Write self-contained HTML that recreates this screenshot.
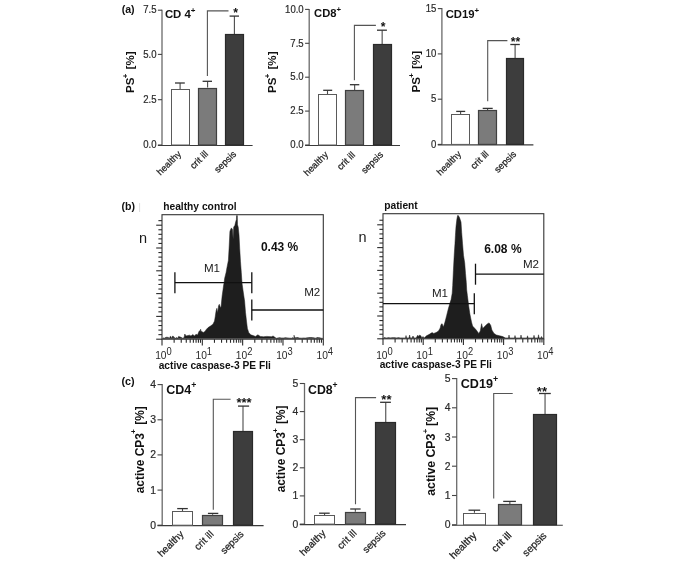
<!DOCTYPE html>
<html><head><meta charset="utf-8"><style>
html,body{margin:0;padding:0;background:#fff;}
svg{display:block;font-family:"Liberation Sans", sans-serif;will-change:transform;}
</style></head><body>
<svg width="685" height="563" viewBox="0 0 685 563" font-family='"Liberation Sans", sans-serif'>
<rect width="685" height="563" fill="#fff"/>
<text x="121.70" y="12.60" font-size="10.6" font-weight="bold" text-anchor="start" fill="#111" >(a)</text>
<line x1="162.00" y1="9.70" x2="162.00" y2="145.00" stroke="#6a6a6a" stroke-width="1.3"/>
<line x1="157.90" y1="10.20" x2="162.00" y2="10.20" stroke="#444" stroke-width="1.1"/>
<text x="156.50" y="13.50" font-size="10.3" text-anchor="end" fill="#2a2a2a" stroke="#2a2a2a" stroke-width="0.2" transform="translate(156.50,0) scale(0.93,1) translate(-156.50,0)">7.5</text>
<line x1="157.90" y1="54.40" x2="162.00" y2="54.40" stroke="#444" stroke-width="1.1"/>
<text x="156.50" y="57.70" font-size="10.3" text-anchor="end" fill="#2a2a2a" stroke="#2a2a2a" stroke-width="0.2" transform="translate(156.50,0) scale(0.93,1) translate(-156.50,0)">5.0</text>
<line x1="157.90" y1="99.70" x2="162.00" y2="99.70" stroke="#444" stroke-width="1.1"/>
<text x="156.50" y="103.00" font-size="10.3" text-anchor="end" fill="#2a2a2a" stroke="#2a2a2a" stroke-width="0.2" transform="translate(156.50,0) scale(0.93,1) translate(-156.50,0)">2.5</text>
<line x1="157.90" y1="145.00" x2="162.00" y2="145.00" stroke="#444" stroke-width="1.1"/>
<text x="156.50" y="148.30" font-size="10.3" text-anchor="end" fill="#2a2a2a" stroke="#2a2a2a" stroke-width="0.2" transform="translate(156.50,0) scale(0.93,1) translate(-156.50,0)">0.0</text>
<line x1="157.90" y1="145.45" x2="252.60" y2="145.45" stroke="#3a3a3a" stroke-width="1.15"/>
<line x1="180.10" y1="89.00" x2="180.10" y2="83.00" stroke="#4a4a4a" stroke-width="1.1"/>
<line x1="175.00" y1="83.00" x2="184.80" y2="83.00" stroke="#333" stroke-width="1.3"/>
<rect x="171.50" y="89.50" width="18.00" height="55.50" fill="#ffffff" stroke="#5a5a5a" stroke-width="1.0"/>
<line x1="207.60" y1="87.50" x2="207.60" y2="81.30" stroke="#4a4a4a" stroke-width="1.1"/>
<line x1="202.60" y1="81.30" x2="212.00" y2="81.30" stroke="#333" stroke-width="1.3"/>
<rect x="198.50" y="88.50" width="18.00" height="56.50" fill="#7b7b7b" stroke="#404040" stroke-width="1.2"/>
<line x1="234.40" y1="34.20" x2="234.40" y2="16.10" stroke="#4a4a4a" stroke-width="1.1"/>
<line x1="229.60" y1="16.10" x2="239.00" y2="16.10" stroke="#333" stroke-width="1.3"/>
<rect x="225.50" y="34.50" width="18.00" height="110.50" fill="#3d3d3d" stroke="#2a2a2a" stroke-width="1.2"/>
<polyline points="207.4,76 207.4,10.9 228.5,10.9" fill="none" stroke="#555" stroke-width="1.1"/>
<text x="235.50" y="17.20" font-size="12.2" font-weight="bold" text-anchor="middle" fill="#111" >*</text>
<text x="164.90" y="18.30" font-size="11.4" font-weight="bold" fill="#111">CD 4<tspan font-size="7.98" dy="-5.70">+</tspan></text>
<text transform="translate(133.60,72.20) rotate(-90)" x="0" y="0" font-size="11.6" font-weight="bold" text-anchor="middle" fill="#111">PS<tspan font-size="7.66" dx="-0.6" dy="-6.10">+</tspan><tspan dx="1.0" dy="6.10"> [%]</tspan></text>
<text transform="translate(181.70,154.60) rotate(-45)" x="0" y="0" font-size="9.3" text-anchor="end" fill="#1e1e1e" stroke="#1e1e1e" stroke-width="0.25">healthy</text>
<text transform="translate(208.70,154.60) rotate(-45)" x="0" y="0" font-size="9.3" text-anchor="end" fill="#1e1e1e" stroke="#1e1e1e" stroke-width="0.25">crit ill</text>
<text transform="translate(236.70,154.60) rotate(-45)" x="0" y="0" font-size="9.3" text-anchor="end" fill="#1e1e1e" stroke="#1e1e1e" stroke-width="0.25">sepsis</text>
<line x1="309.20" y1="8.90" x2="309.20" y2="145.00" stroke="#6a6a6a" stroke-width="1.3"/>
<line x1="305.10" y1="9.40" x2="309.20" y2="9.40" stroke="#444" stroke-width="1.1"/>
<text x="303.70" y="12.70" font-size="10.3" text-anchor="end" fill="#2a2a2a" stroke="#2a2a2a" stroke-width="0.2" transform="translate(303.70,0) scale(0.93,1) translate(-303.70,0)">10.0</text>
<line x1="305.10" y1="43.30" x2="309.20" y2="43.30" stroke="#444" stroke-width="1.1"/>
<text x="303.70" y="46.60" font-size="10.3" text-anchor="end" fill="#2a2a2a" stroke="#2a2a2a" stroke-width="0.2" transform="translate(303.70,0) scale(0.93,1) translate(-303.70,0)">7.5</text>
<line x1="305.10" y1="77.20" x2="309.20" y2="77.20" stroke="#444" stroke-width="1.1"/>
<text x="303.70" y="80.50" font-size="10.3" text-anchor="end" fill="#2a2a2a" stroke="#2a2a2a" stroke-width="0.2" transform="translate(303.70,0) scale(0.93,1) translate(-303.70,0)">5.0</text>
<line x1="305.10" y1="111.10" x2="309.20" y2="111.10" stroke="#444" stroke-width="1.1"/>
<text x="303.70" y="114.40" font-size="10.3" text-anchor="end" fill="#2a2a2a" stroke="#2a2a2a" stroke-width="0.2" transform="translate(303.70,0) scale(0.93,1) translate(-303.70,0)">2.5</text>
<line x1="305.10" y1="145.00" x2="309.20" y2="145.00" stroke="#444" stroke-width="1.1"/>
<text x="303.70" y="148.30" font-size="10.3" text-anchor="end" fill="#2a2a2a" stroke="#2a2a2a" stroke-width="0.2" transform="translate(303.70,0) scale(0.93,1) translate(-303.70,0)">0.0</text>
<line x1="305.10" y1="145.45" x2="400.00" y2="145.45" stroke="#3a3a3a" stroke-width="1.15"/>
<line x1="327.50" y1="94.30" x2="327.50" y2="90.30" stroke="#4a4a4a" stroke-width="1.1"/>
<line x1="323.20" y1="90.30" x2="332.20" y2="90.30" stroke="#333" stroke-width="1.3"/>
<rect x="318.50" y="94.50" width="18.00" height="50.50" fill="#ffffff" stroke="#5a5a5a" stroke-width="1.0"/>
<line x1="354.65" y1="90.30" x2="354.65" y2="84.70" stroke="#4a4a4a" stroke-width="1.1"/>
<line x1="349.90" y1="84.70" x2="359.30" y2="84.70" stroke="#333" stroke-width="1.3"/>
<rect x="345.50" y="90.50" width="18.00" height="54.50" fill="#7b7b7b" stroke="#404040" stroke-width="1.2"/>
<line x1="382.15" y1="44.10" x2="382.15" y2="30.20" stroke="#4a4a4a" stroke-width="1.1"/>
<line x1="377.00" y1="30.20" x2="386.90" y2="30.20" stroke="#333" stroke-width="1.3"/>
<rect x="373.50" y="44.50" width="18.00" height="100.50" fill="#3d3d3d" stroke="#2a2a2a" stroke-width="1.2"/>
<polyline points="354.4,80.2 354.4,25.4 375.9,25.4" fill="none" stroke="#555" stroke-width="1.1"/>
<text x="383.00" y="31.10" font-size="12.2" font-weight="bold" text-anchor="middle" fill="#111" >*</text>
<text x="314.10" y="17.10" font-size="11.2" font-weight="bold" fill="#111">CD8<tspan font-size="7.84" dy="-5.60">+</tspan></text>
<text transform="translate(275.80,72.30) rotate(-90)" x="0" y="0" font-size="11.6" font-weight="bold" text-anchor="middle" fill="#111">PS<tspan font-size="7.66" dx="-0.6" dy="-6.10">+</tspan><tspan dx="1.0" dy="6.10"> [%]</tspan></text>
<text transform="translate(328.70,155.30) rotate(-45)" x="0" y="0" font-size="9.3" text-anchor="end" fill="#1e1e1e" stroke="#1e1e1e" stroke-width="0.25">healthy</text>
<text transform="translate(355.70,155.60) rotate(-45)" x="0" y="0" font-size="9.3" text-anchor="end" fill="#1e1e1e" stroke="#1e1e1e" stroke-width="0.25">crit ill</text>
<text transform="translate(383.70,155.30) rotate(-45)" x="0" y="0" font-size="9.3" text-anchor="end" fill="#1e1e1e" stroke="#1e1e1e" stroke-width="0.25">sepsis</text>
<line x1="441.90" y1="8.10" x2="441.90" y2="144.40" stroke="#6a6a6a" stroke-width="1.3"/>
<line x1="437.80" y1="8.60" x2="441.90" y2="8.60" stroke="#444" stroke-width="1.1"/>
<text x="436.40" y="11.90" font-size="10.3" text-anchor="end" fill="#2a2a2a" stroke="#2a2a2a" stroke-width="0.2" transform="translate(436.40,0) scale(0.93,1) translate(-436.40,0)">15</text>
<line x1="437.80" y1="53.90" x2="441.90" y2="53.90" stroke="#444" stroke-width="1.1"/>
<text x="436.40" y="57.20" font-size="10.3" text-anchor="end" fill="#2a2a2a" stroke="#2a2a2a" stroke-width="0.2" transform="translate(436.40,0) scale(0.93,1) translate(-436.40,0)">10</text>
<line x1="437.80" y1="99.20" x2="441.90" y2="99.20" stroke="#444" stroke-width="1.1"/>
<text x="436.40" y="102.50" font-size="10.3" text-anchor="end" fill="#2a2a2a" stroke="#2a2a2a" stroke-width="0.2" transform="translate(436.40,0) scale(0.93,1) translate(-436.40,0)">5</text>
<line x1="437.80" y1="144.40" x2="441.90" y2="144.40" stroke="#444" stroke-width="1.1"/>
<text x="436.40" y="147.70" font-size="10.3" text-anchor="end" fill="#2a2a2a" stroke="#2a2a2a" stroke-width="0.2" transform="translate(436.40,0) scale(0.93,1) translate(-436.40,0)">0</text>
<line x1="437.80" y1="144.85" x2="533.40" y2="144.85" stroke="#3a3a3a" stroke-width="1.15"/>
<line x1="460.60" y1="114.00" x2="460.60" y2="111.40" stroke="#4a4a4a" stroke-width="1.1"/>
<line x1="456.20" y1="111.40" x2="465.20" y2="111.40" stroke="#333" stroke-width="1.3"/>
<rect x="451.50" y="114.50" width="18.00" height="29.90" fill="#ffffff" stroke="#5a5a5a" stroke-width="1.0"/>
<line x1="487.60" y1="110.00" x2="487.60" y2="108.40" stroke="#4a4a4a" stroke-width="1.1"/>
<line x1="482.70" y1="108.40" x2="492.70" y2="108.40" stroke="#333" stroke-width="1.3"/>
<rect x="478.50" y="110.50" width="18.00" height="33.90" fill="#7b7b7b" stroke="#404040" stroke-width="1.2"/>
<line x1="515.10" y1="58.30" x2="515.10" y2="44.50" stroke="#4a4a4a" stroke-width="1.1"/>
<line x1="510.30" y1="44.50" x2="519.80" y2="44.50" stroke="#333" stroke-width="1.3"/>
<rect x="506.50" y="58.50" width="17.00" height="85.90" fill="#3d3d3d" stroke="#2a2a2a" stroke-width="1.2"/>
<polyline points="487.7,101.3 487.7,40.6 507.4,40.6" fill="none" stroke="#555" stroke-width="1.1"/>
<text x="515.40" y="46.10" font-size="12.2" font-weight="bold" text-anchor="middle" fill="#111" >**</text>
<text x="445.70" y="18.20" font-size="11.3" font-weight="bold" fill="#111">CD19<tspan font-size="7.91" dy="-5.65">+</tspan></text>
<text transform="translate(419.60,71.70) rotate(-90)" x="0" y="0" font-size="11.6" font-weight="bold" text-anchor="middle" fill="#111">PS<tspan font-size="7.66" dx="-0.6" dy="-6.10">+</tspan><tspan dx="1.0" dy="6.10"> [%]</tspan></text>
<text transform="translate(461.70,154.70) rotate(-45)" x="0" y="0" font-size="9.3" text-anchor="end" fill="#1e1e1e" stroke="#1e1e1e" stroke-width="0.25">healthy</text>
<text transform="translate(489.30,154.70) rotate(-45)" x="0" y="0" font-size="9.3" text-anchor="end" fill="#1e1e1e" stroke="#1e1e1e" stroke-width="0.25">crit ill</text>
<text transform="translate(516.70,154.60) rotate(-45)" x="0" y="0" font-size="9.3" text-anchor="end" fill="#1e1e1e" stroke="#1e1e1e" stroke-width="0.25">sepsis</text>
<text x="121.50" y="385.00" font-size="10.8" font-weight="bold" text-anchor="start" fill="#111" >(c)</text>
<line x1="162.20" y1="384.10" x2="162.20" y2="525.20" stroke="#6a6a6a" stroke-width="1.3"/>
<line x1="157.50" y1="384.60" x2="162.20" y2="384.60" stroke="#444" stroke-width="1.1"/>
<text x="156.10" y="388.10" font-size="10.4" text-anchor="end" fill="#2a2a2a" stroke="#2a2a2a" stroke-width="0.2" transform="translate(156.10,0) scale(1.0,1) translate(-156.10,0)">4</text>
<line x1="157.50" y1="419.80" x2="162.20" y2="419.80" stroke="#444" stroke-width="1.1"/>
<text x="156.10" y="423.30" font-size="10.4" text-anchor="end" fill="#2a2a2a" stroke="#2a2a2a" stroke-width="0.2" transform="translate(156.10,0) scale(1.0,1) translate(-156.10,0)">3</text>
<line x1="157.50" y1="454.90" x2="162.20" y2="454.90" stroke="#444" stroke-width="1.1"/>
<text x="156.10" y="458.40" font-size="10.4" text-anchor="end" fill="#2a2a2a" stroke="#2a2a2a" stroke-width="0.2" transform="translate(156.10,0) scale(1.0,1) translate(-156.10,0)">2</text>
<line x1="157.50" y1="490.10" x2="162.20" y2="490.10" stroke="#444" stroke-width="1.1"/>
<text x="156.10" y="493.60" font-size="10.4" text-anchor="end" fill="#2a2a2a" stroke="#2a2a2a" stroke-width="0.2" transform="translate(156.10,0) scale(1.0,1) translate(-156.10,0)">1</text>
<line x1="157.50" y1="525.20" x2="162.20" y2="525.20" stroke="#444" stroke-width="1.1"/>
<text x="156.10" y="528.70" font-size="10.4" text-anchor="end" fill="#2a2a2a" stroke="#2a2a2a" stroke-width="0.2" transform="translate(156.10,0) scale(1.0,1) translate(-156.10,0)">0</text>
<line x1="157.50" y1="525.65" x2="263.60" y2="525.65" stroke="#3a3a3a" stroke-width="1.15"/>
<line x1="182.50" y1="511.20" x2="182.50" y2="508.60" stroke="#4a4a4a" stroke-width="1.1"/>
<line x1="177.20" y1="508.60" x2="187.80" y2="508.60" stroke="#333" stroke-width="1.3"/>
<rect x="172.50" y="511.50" width="20.00" height="13.70" fill="#ffffff" stroke="#5a5a5a" stroke-width="1.0"/>
<line x1="212.60" y1="514.80" x2="212.60" y2="513.40" stroke="#4a4a4a" stroke-width="1.1"/>
<line x1="207.90" y1="513.40" x2="218.30" y2="513.40" stroke="#333" stroke-width="1.3"/>
<rect x="202.50" y="515.50" width="20.00" height="9.70" fill="#7b7b7b" stroke="#404040" stroke-width="1.2"/>
<line x1="243.00" y1="431.40" x2="243.00" y2="406.10" stroke="#4a4a4a" stroke-width="1.1"/>
<line x1="238.00" y1="406.10" x2="249.10" y2="406.10" stroke="#333" stroke-width="1.3"/>
<rect x="233.50" y="431.50" width="19.00" height="93.70" fill="#3d3d3d" stroke="#2a2a2a" stroke-width="1.2"/>
<polyline points="213.3,509.8 213.3,399.2 230.6,399.2" fill="none" stroke="#555" stroke-width="1.1"/>
<text x="244.00" y="406.70" font-size="13" font-weight="bold" text-anchor="middle" fill="#111" >***</text>
<text x="166.30" y="394.10" font-size="12.5" font-weight="bold" fill="#111">CD4<tspan font-size="8.75" dy="-6.25">+</tspan></text>
<text transform="translate(143.60,449.80) rotate(-90)" x="0" y="0" font-size="11.9" font-weight="bold" text-anchor="middle" fill="#111">active CP3<tspan font-size="7.85" dx="-0.6" dy="-7.40">+</tspan><tspan dx="1.0" dy="7.40"> [%]</tspan></text>
<text transform="translate(184.20,534.80) rotate(-45)" x="0" y="0" font-size="9.9" text-anchor="end" fill="#1e1e1e" stroke="#1e1e1e" stroke-width="0.25">healthy</text>
<text transform="translate(214.20,534.80) rotate(-45)" x="0" y="0" font-size="9.9" text-anchor="end" fill="#1e1e1e" stroke="#1e1e1e" stroke-width="0.25">crit ill</text>
<text transform="translate(244.20,534.80) rotate(-45)" x="0" y="0" font-size="9.9" text-anchor="end" fill="#1e1e1e" stroke="#1e1e1e" stroke-width="0.25">sepsis</text>
<line x1="304.50" y1="383.00" x2="304.50" y2="524.10" stroke="#6a6a6a" stroke-width="1.3"/>
<line x1="299.80" y1="383.50" x2="304.50" y2="383.50" stroke="#444" stroke-width="1.1"/>
<text x="298.40" y="387.00" font-size="10.4" text-anchor="end" fill="#2a2a2a" stroke="#2a2a2a" stroke-width="0.2" transform="translate(298.40,0) scale(1.0,1) translate(-298.40,0)">5</text>
<line x1="299.80" y1="411.60" x2="304.50" y2="411.60" stroke="#444" stroke-width="1.1"/>
<text x="298.40" y="415.10" font-size="10.4" text-anchor="end" fill="#2a2a2a" stroke="#2a2a2a" stroke-width="0.2" transform="translate(298.40,0) scale(1.0,1) translate(-298.40,0)">4</text>
<line x1="299.80" y1="439.70" x2="304.50" y2="439.70" stroke="#444" stroke-width="1.1"/>
<text x="298.40" y="443.20" font-size="10.4" text-anchor="end" fill="#2a2a2a" stroke="#2a2a2a" stroke-width="0.2" transform="translate(298.40,0) scale(1.0,1) translate(-298.40,0)">3</text>
<line x1="299.80" y1="467.80" x2="304.50" y2="467.80" stroke="#444" stroke-width="1.1"/>
<text x="298.40" y="471.30" font-size="10.4" text-anchor="end" fill="#2a2a2a" stroke="#2a2a2a" stroke-width="0.2" transform="translate(298.40,0) scale(1.0,1) translate(-298.40,0)">2</text>
<line x1="299.80" y1="495.90" x2="304.50" y2="495.90" stroke="#444" stroke-width="1.1"/>
<text x="298.40" y="499.40" font-size="10.4" text-anchor="end" fill="#2a2a2a" stroke="#2a2a2a" stroke-width="0.2" transform="translate(298.40,0) scale(1.0,1) translate(-298.40,0)">1</text>
<line x1="299.80" y1="524.10" x2="304.50" y2="524.10" stroke="#444" stroke-width="1.1"/>
<text x="298.40" y="527.60" font-size="10.4" text-anchor="end" fill="#2a2a2a" stroke="#2a2a2a" stroke-width="0.2" transform="translate(298.40,0) scale(1.0,1) translate(-298.40,0)">0</text>
<line x1="299.80" y1="524.55" x2="406.00" y2="524.55" stroke="#3a3a3a" stroke-width="1.15"/>
<line x1="324.55" y1="515.20" x2="324.55" y2="513.20" stroke="#4a4a4a" stroke-width="1.1"/>
<line x1="319.10" y1="513.20" x2="329.70" y2="513.20" stroke="#333" stroke-width="1.3"/>
<rect x="314.50" y="515.50" width="20.00" height="8.60" fill="#ffffff" stroke="#5a5a5a" stroke-width="1.0"/>
<line x1="355.35" y1="511.80" x2="355.35" y2="509.00" stroke="#4a4a4a" stroke-width="1.1"/>
<line x1="350.20" y1="509.00" x2="360.60" y2="509.00" stroke="#333" stroke-width="1.3"/>
<rect x="345.50" y="512.50" width="20.00" height="11.60" fill="#7b7b7b" stroke="#404040" stroke-width="1.2"/>
<line x1="385.75" y1="422.10" x2="385.75" y2="402.30" stroke="#4a4a4a" stroke-width="1.1"/>
<line x1="380.10" y1="402.30" x2="390.90" y2="402.30" stroke="#333" stroke-width="1.3"/>
<rect x="375.50" y="422.50" width="20.00" height="101.60" fill="#3d3d3d" stroke="#2a2a2a" stroke-width="1.2"/>
<polyline points="355.5,504.2 355.5,397.6 376.1,397.6" fill="none" stroke="#555" stroke-width="1.1"/>
<text x="386.40" y="404.10" font-size="13" font-weight="bold" text-anchor="middle" fill="#111" >**</text>
<text x="308.00" y="393.80" font-size="12.3" font-weight="bold" fill="#111">CD8<tspan font-size="8.61" dy="-6.15">+</tspan></text>
<text transform="translate(285.20,448.90) rotate(-90)" x="0" y="0" font-size="11.9" font-weight="bold" text-anchor="middle" fill="#111">active CP3<tspan font-size="7.85" dx="-0.6" dy="-7.40">+</tspan><tspan dx="1.0" dy="7.40"> [%]</tspan></text>
<text transform="translate(326.20,533.80) rotate(-45)" x="0" y="0" font-size="9.9" text-anchor="end" fill="#1e1e1e" stroke="#1e1e1e" stroke-width="0.25">healthy</text>
<text transform="translate(357.20,533.80) rotate(-45)" x="0" y="0" font-size="9.9" text-anchor="end" fill="#1e1e1e" stroke="#1e1e1e" stroke-width="0.25">crit ill</text>
<text transform="translate(386.20,533.80) rotate(-45)" x="0" y="0" font-size="9.9" text-anchor="end" fill="#1e1e1e" stroke="#1e1e1e" stroke-width="0.25">sepsis</text>
<line x1="456.70" y1="378.10" x2="456.70" y2="524.80" stroke="#6a6a6a" stroke-width="1.3"/>
<line x1="452.00" y1="378.60" x2="456.70" y2="378.60" stroke="#444" stroke-width="1.1"/>
<text x="450.60" y="382.10" font-size="10.4" text-anchor="end" fill="#2a2a2a" stroke="#2a2a2a" stroke-width="0.2" transform="translate(450.60,0) scale(1.0,1) translate(-450.60,0)">5</text>
<line x1="452.00" y1="407.80" x2="456.70" y2="407.80" stroke="#444" stroke-width="1.1"/>
<text x="450.60" y="411.30" font-size="10.4" text-anchor="end" fill="#2a2a2a" stroke="#2a2a2a" stroke-width="0.2" transform="translate(450.60,0) scale(1.0,1) translate(-450.60,0)">4</text>
<line x1="452.00" y1="437.00" x2="456.70" y2="437.00" stroke="#444" stroke-width="1.1"/>
<text x="450.60" y="440.50" font-size="10.4" text-anchor="end" fill="#2a2a2a" stroke="#2a2a2a" stroke-width="0.2" transform="translate(450.60,0) scale(1.0,1) translate(-450.60,0)">3</text>
<line x1="452.00" y1="466.20" x2="456.70" y2="466.20" stroke="#444" stroke-width="1.1"/>
<text x="450.60" y="469.70" font-size="10.4" text-anchor="end" fill="#2a2a2a" stroke="#2a2a2a" stroke-width="0.2" transform="translate(450.60,0) scale(1.0,1) translate(-450.60,0)">2</text>
<line x1="452.00" y1="495.50" x2="456.70" y2="495.50" stroke="#444" stroke-width="1.1"/>
<text x="450.60" y="499.00" font-size="10.4" text-anchor="end" fill="#2a2a2a" stroke="#2a2a2a" stroke-width="0.2" transform="translate(450.60,0) scale(1.0,1) translate(-450.60,0)">1</text>
<line x1="452.00" y1="524.80" x2="456.70" y2="524.80" stroke="#444" stroke-width="1.1"/>
<text x="450.60" y="528.30" font-size="10.4" text-anchor="end" fill="#2a2a2a" stroke="#2a2a2a" stroke-width="0.2" transform="translate(450.60,0) scale(1.0,1) translate(-450.60,0)">0</text>
<line x1="452.00" y1="525.25" x2="562.80" y2="525.25" stroke="#3a3a3a" stroke-width="1.15"/>
<line x1="474.45" y1="512.80" x2="474.45" y2="510.20" stroke="#4a4a4a" stroke-width="1.1"/>
<line x1="468.50" y1="510.20" x2="480.20" y2="510.20" stroke="#333" stroke-width="1.3"/>
<rect x="463.50" y="513.50" width="22.00" height="11.30" fill="#ffffff" stroke="#5a5a5a" stroke-width="1.0"/>
<line x1="509.85" y1="504.20" x2="509.85" y2="501.40" stroke="#4a4a4a" stroke-width="1.1"/>
<line x1="503.20" y1="501.40" x2="515.90" y2="501.40" stroke="#333" stroke-width="1.3"/>
<rect x="498.50" y="504.50" width="23.00" height="20.30" fill="#7b7b7b" stroke="#404040" stroke-width="1.2"/>
<line x1="545.05" y1="414.10" x2="545.05" y2="393.50" stroke="#4a4a4a" stroke-width="1.1"/>
<line x1="539.00" y1="393.50" x2="550.80" y2="393.50" stroke="#333" stroke-width="1.3"/>
<rect x="533.50" y="414.50" width="23.00" height="110.30" fill="#3d3d3d" stroke="#2a2a2a" stroke-width="1.2"/>
<polyline points="493.7,498.5 493.7,393.5 512.7,393.5" fill="none" stroke="#555" stroke-width="1.1"/>
<text x="541.90" y="395.50" font-size="13" font-weight="bold" text-anchor="middle" fill="#111" >**</text>
<text x="460.70" y="388.20" font-size="12.6" font-weight="bold" fill="#111">CD19<tspan font-size="8.82" dy="-6.30">+</tspan></text>
<text transform="translate(435.20,451.30) rotate(-90)" x="0" y="0" font-size="12.3" font-weight="bold" text-anchor="middle" fill="#111">active CP3<tspan font-size="8.12" dx="0" dy="-7.60">+</tspan><tspan dx="-0.5" dy="7.60"> [%]</tspan></text>
<text transform="translate(477.20,536.10) rotate(-45)" x="0" y="0" font-size="10.3" text-anchor="end" fill="#1e1e1e" stroke="#1e1e1e" stroke-width="0.25">healthy</text>
<text transform="translate(512.20,536.10) rotate(-45)" x="0" y="0" font-size="10.3" text-anchor="end" fill="#1e1e1e" stroke="#1e1e1e" stroke-width="0.25">crit ill</text>
<text transform="translate(547.20,536.30) rotate(-45)" x="0" y="0" font-size="10.3" text-anchor="end" fill="#1e1e1e" stroke="#1e1e1e" stroke-width="0.25">sepsis</text>
<text x="121.60" y="210.20" font-size="10.6" font-weight="bold" text-anchor="start" fill="#111" >(b)</text>
<line x1="139.60" y1="203.00" x2="139.60" y2="212.00" stroke="#ddd" stroke-width="1"/>
<polygon points="162.6,338.4 163.0,338.0 163.6,338.0 164.2,338.2 164.8,338.2 165.4,337.5 166.0,337.5 166.6,337.2 167.2,337.2 167.8,337.4 168.4,337.4 169.0,338.2 169.6,338.2 170.2,336.4 170.8,336.4 171.4,337.9 172.0,337.9 172.6,336.1 173.2,336.1 173.8,337.4 174.4,337.4 175.0,338.3 175.6,338.3 176.2,337.7 176.8,337.7 177.4,338.1 178.0,338.1 178.6,336.4 179.2,336.4 179.8,337.0 180.4,337.0 181.0,337.5 181.6,337.5 182.2,338.2 182.8,338.2 183.4,337.9 184.0,337.9 184.8,334.0 186.0,336.0 188.0,335.5 189.6,335.2 191.0,336.0 192.8,334.5 194.5,336.0 196.0,334.2 197.5,335.0 199.3,330.8 200.1,331.5 200.6,329.2 201.1,331.0 201.7,331.6 203.3,332.4 204.9,331.6 206.5,329.2 208.1,327.6 210.5,326.0 212.9,324.3 214.5,321.1 215.3,316.3 216.1,310.7 216.9,308.3 217.7,313.1 218.5,305.9 219.3,304.3 220.1,306.7 221.0,307.5 222.1,296.2 223.0,289.8 223.5,286.0 224.2,282.0 224.6,278.5 226.1,272.4 226.9,267.9 228.4,260.3 229.2,246.0 229.9,231.6 230.4,230.1 231.4,227.9 232.5,229.4 233.1,239.2 233.7,227.1 234.8,225.6 235.7,221.8 236.4,219.6 236.6,215.6 237.3,215.6 237.5,224.8 238.2,227.1 239.0,234.7 239.7,248.3 240.5,261.8 241.3,272.4 241.8,280.0 242.2,284.5 243.4,293.0 244.6,301.1 245.5,312.3 246.6,322.0 247.4,328.4 248.7,332.4 250.7,334.8 253.1,335.6 255.5,336.4 257.9,334.8 260.3,336.4 263.5,336.8 266.7,336.4 271.5,336.7 273.1,336.0 276.4,338.4 277.0,338.1 278.0,338.1 279.0,337.7 280.0,337.7 281.0,338.0 282.0,338.0 283.0,338.0 284.0,338.0 285.0,337.7 286.0,337.7 287.0,337.9 288.0,337.9 289.0,338.2 290.0,338.2 291.0,338.3 292.0,338.3 293.0,337.5 293.5,338.4 294.0,337.5 294.0,335.2 294.8,338.4 295.0,337.8 296.0,337.8 297.0,337.6 298.0,337.6 299.0,338.1 300.0,338.1 301.0,338.2 302.0,338.2 303.0,338.0 304.0,338.0 305.0,338.1 306.0,338.1 307.0,337.8 308.0,337.8 309.0,337.6 310.0,337.6 311.0,337.6 312.0,337.6 313.0,337.8 314.0,337.8 315.0,338.2 316.0,338.2 317.0,337.6 318.0,337.6 319.0,337.8 320.0,337.8 321.0,338.3 322.0,338.3 322.8,338.4" fill="#1e1e1e" stroke="#1e1e1e" stroke-width="0.5"/>
<rect x="162" y="214.7" width="161.3" height="124.5" fill="none" stroke="#333" stroke-width="1.1"/>
<line x1="156.20" y1="339.20" x2="162.00" y2="339.20" stroke="#2a2a2a" stroke-width="1.1"/>
<line x1="158.40" y1="334.64" x2="162.00" y2="334.64" stroke="#2a2a2a" stroke-width="1.1"/>
<line x1="158.40" y1="330.08" x2="162.00" y2="330.08" stroke="#2a2a2a" stroke-width="1.1"/>
<line x1="158.40" y1="325.52" x2="162.00" y2="325.52" stroke="#2a2a2a" stroke-width="1.1"/>
<line x1="158.40" y1="320.96" x2="162.00" y2="320.96" stroke="#2a2a2a" stroke-width="1.1"/>
<line x1="156.20" y1="316.40" x2="162.00" y2="316.40" stroke="#2a2a2a" stroke-width="1.1"/>
<line x1="158.40" y1="311.84" x2="162.00" y2="311.84" stroke="#2a2a2a" stroke-width="1.1"/>
<line x1="158.40" y1="307.28" x2="162.00" y2="307.28" stroke="#2a2a2a" stroke-width="1.1"/>
<line x1="158.40" y1="302.72" x2="162.00" y2="302.72" stroke="#2a2a2a" stroke-width="1.1"/>
<line x1="158.40" y1="298.16" x2="162.00" y2="298.16" stroke="#2a2a2a" stroke-width="1.1"/>
<line x1="156.20" y1="293.60" x2="162.00" y2="293.60" stroke="#2a2a2a" stroke-width="1.1"/>
<line x1="158.40" y1="289.04" x2="162.00" y2="289.04" stroke="#2a2a2a" stroke-width="1.1"/>
<line x1="158.40" y1="284.48" x2="162.00" y2="284.48" stroke="#2a2a2a" stroke-width="1.1"/>
<line x1="158.40" y1="279.92" x2="162.00" y2="279.92" stroke="#2a2a2a" stroke-width="1.1"/>
<line x1="158.40" y1="275.36" x2="162.00" y2="275.36" stroke="#2a2a2a" stroke-width="1.1"/>
<line x1="156.20" y1="270.80" x2="162.00" y2="270.80" stroke="#2a2a2a" stroke-width="1.1"/>
<line x1="158.40" y1="266.24" x2="162.00" y2="266.24" stroke="#2a2a2a" stroke-width="1.1"/>
<line x1="158.40" y1="261.68" x2="162.00" y2="261.68" stroke="#2a2a2a" stroke-width="1.1"/>
<line x1="158.40" y1="257.12" x2="162.00" y2="257.12" stroke="#2a2a2a" stroke-width="1.1"/>
<line x1="158.40" y1="252.56" x2="162.00" y2="252.56" stroke="#2a2a2a" stroke-width="1.1"/>
<line x1="156.20" y1="248.00" x2="162.00" y2="248.00" stroke="#2a2a2a" stroke-width="1.1"/>
<line x1="158.40" y1="243.44" x2="162.00" y2="243.44" stroke="#2a2a2a" stroke-width="1.1"/>
<line x1="158.40" y1="238.88" x2="162.00" y2="238.88" stroke="#2a2a2a" stroke-width="1.1"/>
<line x1="158.40" y1="234.32" x2="162.00" y2="234.32" stroke="#2a2a2a" stroke-width="1.1"/>
<line x1="158.40" y1="229.76" x2="162.00" y2="229.76" stroke="#2a2a2a" stroke-width="1.1"/>
<line x1="156.20" y1="225.20" x2="162.00" y2="225.20" stroke="#2a2a2a" stroke-width="1.1"/>
<line x1="158.40" y1="220.64" x2="162.00" y2="220.64" stroke="#2a2a2a" stroke-width="1.1"/>
<line x1="162.00" y1="339.20" x2="162.00" y2="345.50" stroke="#2a2a2a" stroke-width="1.1"/>
<line x1="174.14" y1="339.20" x2="174.14" y2="342.80" stroke="#2a2a2a" stroke-width="1.1"/>
<line x1="181.24" y1="339.20" x2="181.24" y2="342.80" stroke="#2a2a2a" stroke-width="1.1"/>
<line x1="186.28" y1="339.20" x2="186.28" y2="342.80" stroke="#2a2a2a" stroke-width="1.1"/>
<line x1="190.19" y1="339.20" x2="190.19" y2="342.80" stroke="#2a2a2a" stroke-width="1.1"/>
<line x1="193.38" y1="339.20" x2="193.38" y2="342.80" stroke="#2a2a2a" stroke-width="1.1"/>
<line x1="196.08" y1="339.20" x2="196.08" y2="342.80" stroke="#2a2a2a" stroke-width="1.1"/>
<line x1="198.42" y1="339.20" x2="198.42" y2="342.80" stroke="#2a2a2a" stroke-width="1.1"/>
<line x1="200.48" y1="339.20" x2="200.48" y2="342.80" stroke="#2a2a2a" stroke-width="1.1"/>
<line x1="202.32" y1="339.20" x2="202.32" y2="345.50" stroke="#2a2a2a" stroke-width="1.1"/>
<line x1="214.46" y1="339.20" x2="214.46" y2="342.80" stroke="#2a2a2a" stroke-width="1.1"/>
<line x1="221.56" y1="339.20" x2="221.56" y2="342.80" stroke="#2a2a2a" stroke-width="1.1"/>
<line x1="226.60" y1="339.20" x2="226.60" y2="342.80" stroke="#2a2a2a" stroke-width="1.1"/>
<line x1="230.51" y1="339.20" x2="230.51" y2="342.80" stroke="#2a2a2a" stroke-width="1.1"/>
<line x1="233.70" y1="339.20" x2="233.70" y2="342.80" stroke="#2a2a2a" stroke-width="1.1"/>
<line x1="236.40" y1="339.20" x2="236.40" y2="342.80" stroke="#2a2a2a" stroke-width="1.1"/>
<line x1="238.74" y1="339.20" x2="238.74" y2="342.80" stroke="#2a2a2a" stroke-width="1.1"/>
<line x1="240.80" y1="339.20" x2="240.80" y2="342.80" stroke="#2a2a2a" stroke-width="1.1"/>
<line x1="242.65" y1="339.20" x2="242.65" y2="345.50" stroke="#2a2a2a" stroke-width="1.1"/>
<line x1="254.79" y1="339.20" x2="254.79" y2="342.80" stroke="#2a2a2a" stroke-width="1.1"/>
<line x1="261.89" y1="339.20" x2="261.89" y2="342.80" stroke="#2a2a2a" stroke-width="1.1"/>
<line x1="266.93" y1="339.20" x2="266.93" y2="342.80" stroke="#2a2a2a" stroke-width="1.1"/>
<line x1="270.84" y1="339.20" x2="270.84" y2="342.80" stroke="#2a2a2a" stroke-width="1.1"/>
<line x1="274.03" y1="339.20" x2="274.03" y2="342.80" stroke="#2a2a2a" stroke-width="1.1"/>
<line x1="276.73" y1="339.20" x2="276.73" y2="342.80" stroke="#2a2a2a" stroke-width="1.1"/>
<line x1="279.07" y1="339.20" x2="279.07" y2="342.80" stroke="#2a2a2a" stroke-width="1.1"/>
<line x1="281.13" y1="339.20" x2="281.13" y2="342.80" stroke="#2a2a2a" stroke-width="1.1"/>
<line x1="282.98" y1="339.20" x2="282.98" y2="345.50" stroke="#2a2a2a" stroke-width="1.1"/>
<line x1="295.11" y1="339.20" x2="295.11" y2="342.80" stroke="#2a2a2a" stroke-width="1.1"/>
<line x1="302.21" y1="339.20" x2="302.21" y2="342.80" stroke="#2a2a2a" stroke-width="1.1"/>
<line x1="307.25" y1="339.20" x2="307.25" y2="342.80" stroke="#2a2a2a" stroke-width="1.1"/>
<line x1="311.16" y1="339.20" x2="311.16" y2="342.80" stroke="#2a2a2a" stroke-width="1.1"/>
<line x1="314.35" y1="339.20" x2="314.35" y2="342.80" stroke="#2a2a2a" stroke-width="1.1"/>
<line x1="317.05" y1="339.20" x2="317.05" y2="342.80" stroke="#2a2a2a" stroke-width="1.1"/>
<line x1="319.39" y1="339.20" x2="319.39" y2="342.80" stroke="#2a2a2a" stroke-width="1.1"/>
<line x1="321.45" y1="339.20" x2="321.45" y2="342.80" stroke="#2a2a2a" stroke-width="1.1"/>
<line x1="323.30" y1="339.20" x2="323.30" y2="345.50" stroke="#2a2a2a" stroke-width="1.1"/>
<text x="154.40" y="359.30" font-size="11.4" fill="#2a2a2a" transform="translate(162.00,0) scale(0.9,1) translate(-162.00,0)">10<tspan font-size="10.4" dy="-4.3">0</tspan></text>
<text x="194.72" y="359.30" font-size="11.4" fill="#2a2a2a" transform="translate(202.32,0) scale(0.9,1) translate(-202.32,0)">10<tspan font-size="10.4" dy="-4.3">1</tspan></text>
<text x="235.05" y="359.30" font-size="11.4" fill="#2a2a2a" transform="translate(242.65,0) scale(0.9,1) translate(-242.65,0)">10<tspan font-size="10.4" dy="-4.3">2</tspan></text>
<text x="275.38" y="359.30" font-size="11.4" fill="#2a2a2a" transform="translate(282.98,0) scale(0.9,1) translate(-282.98,0)">10<tspan font-size="10.4" dy="-4.3">3</tspan></text>
<text x="315.70" y="359.30" font-size="11.4" fill="#2a2a2a" transform="translate(323.30,0) scale(0.9,1) translate(-323.30,0)">10<tspan font-size="10.4" dy="-4.3">4</tspan></text>
<text x="158.70" y="368.70" font-size="10.2" font-weight="bold" text-anchor="start" fill="#111" >active caspase-3 PE Fli</text>
<text x="163.20" y="210.40" font-size="10.25" font-weight="bold" text-anchor="start" fill="#111" >healthy control</text>
<text x="139.00" y="243.00" font-size="14.5" font-weight="normal" text-anchor="start" fill="#1a1a1a" >n</text>
<text x="260.90" y="251.10" font-size="12" font-weight="bold" text-anchor="start" fill="#111" >0.43 %</text>
<line x1="174.90" y1="282.70" x2="251.80" y2="282.70" stroke="#111" stroke-width="1.3"/>
<line x1="174.90" y1="272.20" x2="174.90" y2="293.20" stroke="#111" stroke-width="1.3"/>
<line x1="251.80" y1="272.20" x2="251.80" y2="293.20" stroke="#111" stroke-width="1.3"/>
<text x="203.90" y="272.10" font-size="11.6" font-weight="normal" text-anchor="start" fill="#1a1a1a" >M1</text>
<line x1="251.80" y1="310.00" x2="323.30" y2="310.00" stroke="#111" stroke-width="1.3"/>
<line x1="251.80" y1="299.50" x2="251.80" y2="320.50" stroke="#111" stroke-width="1.3"/>
<text x="304.20" y="295.60" font-size="11.6" font-weight="normal" text-anchor="start" fill="#1a1a1a" >M2</text>
<polygon points="383.5,338.2 384.0,337.7 385.0,337.7 386.0,338.1 387.0,338.1 388.0,337.7 389.0,337.7 390.0,337.9 391.0,337.9 392.0,337.7 393.0,337.7 394.0,337.7 395.0,337.7 396.0,338.0 397.0,338.0 398.0,337.7 399.0,337.7 400.0,338.1 401.0,338.1 402.0,338.1 403.0,338.1 404.0,338.2 405.5,338.2 406.0,335.5 406.6,338.2 409.0,338.2 409.6,335.0 410.3,338.2 412.0,338.2 413.0,336.0 414.0,338.2 416.0,338.2 417.7,335.3 418.5,336.5 419.3,335.2 420.9,335.8 421.8,338.2 423.0,336.5 424.0,338.2 426.5,335.8 428.9,334.6 432.1,332.6 433.7,333.4 436.1,332.6 438.5,331.0 440.2,328.0 441.0,324.5 442.1,323.7 443.4,327.0 445.0,322.0 446.6,315.7 448.2,309.3 449.8,303.6 451.1,299.6 452.2,293.2 452.7,285.5 453.4,270.4 454.2,255.3 454.9,244.7 455.4,235.7 456.0,226.6 456.9,219.1 457.6,215.6 458.3,215.6 459.5,217.6 461.0,222.1 461.7,232.7 462.5,243.2 463.5,255.3 464.7,262.9 465.5,273.4 466.3,282.5 466.7,290.0 467.4,295.6 468.7,306.0 469.9,314.1 471.5,322.0 472.6,326.1 474.2,327.7 476.3,330.1 478.7,333.4 480.3,331.0 481.6,323.7 482.7,328.5 485.1,326.1 487.5,323.7 489.1,322.9 490.7,325.3 491.9,330.1 494.0,333.4 496.4,335.0 499.6,335.8 502.8,336.6 505.2,337.9 506.0,338.2 508.5,338.2 509.0,335.0 509.6,338.2 514.5,338.2 515.0,335.5 515.6,338.2 520.5,338.2 521.0,335.0 521.6,338.2 527.0,338.2 527.5,335.8 528.1,338.2 533.5,338.2 534.0,335.3 534.6,338.2 538.0,338.2 538.5,334.8 539.1,338.2 541.0,338.2 541.5,336.5 542.0,338.2 543.5,338.2" fill="#1e1e1e" stroke="#1e1e1e" stroke-width="0.5"/>
<rect x="383" y="213.7" width="160.79999999999995" height="125.10000000000002" fill="none" stroke="#333" stroke-width="1.1"/>
<line x1="377.20" y1="338.80" x2="383.00" y2="338.80" stroke="#2a2a2a" stroke-width="1.1"/>
<line x1="379.40" y1="334.24" x2="383.00" y2="334.24" stroke="#2a2a2a" stroke-width="1.1"/>
<line x1="379.40" y1="329.68" x2="383.00" y2="329.68" stroke="#2a2a2a" stroke-width="1.1"/>
<line x1="379.40" y1="325.12" x2="383.00" y2="325.12" stroke="#2a2a2a" stroke-width="1.1"/>
<line x1="379.40" y1="320.56" x2="383.00" y2="320.56" stroke="#2a2a2a" stroke-width="1.1"/>
<line x1="377.20" y1="316.00" x2="383.00" y2="316.00" stroke="#2a2a2a" stroke-width="1.1"/>
<line x1="379.40" y1="311.44" x2="383.00" y2="311.44" stroke="#2a2a2a" stroke-width="1.1"/>
<line x1="379.40" y1="306.88" x2="383.00" y2="306.88" stroke="#2a2a2a" stroke-width="1.1"/>
<line x1="379.40" y1="302.32" x2="383.00" y2="302.32" stroke="#2a2a2a" stroke-width="1.1"/>
<line x1="379.40" y1="297.76" x2="383.00" y2="297.76" stroke="#2a2a2a" stroke-width="1.1"/>
<line x1="377.20" y1="293.20" x2="383.00" y2="293.20" stroke="#2a2a2a" stroke-width="1.1"/>
<line x1="379.40" y1="288.64" x2="383.00" y2="288.64" stroke="#2a2a2a" stroke-width="1.1"/>
<line x1="379.40" y1="284.08" x2="383.00" y2="284.08" stroke="#2a2a2a" stroke-width="1.1"/>
<line x1="379.40" y1="279.52" x2="383.00" y2="279.52" stroke="#2a2a2a" stroke-width="1.1"/>
<line x1="379.40" y1="274.96" x2="383.00" y2="274.96" stroke="#2a2a2a" stroke-width="1.1"/>
<line x1="377.20" y1="270.40" x2="383.00" y2="270.40" stroke="#2a2a2a" stroke-width="1.1"/>
<line x1="379.40" y1="265.84" x2="383.00" y2="265.84" stroke="#2a2a2a" stroke-width="1.1"/>
<line x1="379.40" y1="261.28" x2="383.00" y2="261.28" stroke="#2a2a2a" stroke-width="1.1"/>
<line x1="379.40" y1="256.72" x2="383.00" y2="256.72" stroke="#2a2a2a" stroke-width="1.1"/>
<line x1="379.40" y1="252.16" x2="383.00" y2="252.16" stroke="#2a2a2a" stroke-width="1.1"/>
<line x1="377.20" y1="247.60" x2="383.00" y2="247.60" stroke="#2a2a2a" stroke-width="1.1"/>
<line x1="379.40" y1="243.04" x2="383.00" y2="243.04" stroke="#2a2a2a" stroke-width="1.1"/>
<line x1="379.40" y1="238.48" x2="383.00" y2="238.48" stroke="#2a2a2a" stroke-width="1.1"/>
<line x1="379.40" y1="233.92" x2="383.00" y2="233.92" stroke="#2a2a2a" stroke-width="1.1"/>
<line x1="379.40" y1="229.36" x2="383.00" y2="229.36" stroke="#2a2a2a" stroke-width="1.1"/>
<line x1="377.20" y1="224.80" x2="383.00" y2="224.80" stroke="#2a2a2a" stroke-width="1.1"/>
<line x1="379.40" y1="220.24" x2="383.00" y2="220.24" stroke="#2a2a2a" stroke-width="1.1"/>
<line x1="383.00" y1="338.80" x2="383.00" y2="345.10" stroke="#2a2a2a" stroke-width="1.1"/>
<line x1="395.10" y1="338.80" x2="395.10" y2="342.40" stroke="#2a2a2a" stroke-width="1.1"/>
<line x1="402.18" y1="338.80" x2="402.18" y2="342.40" stroke="#2a2a2a" stroke-width="1.1"/>
<line x1="407.20" y1="338.80" x2="407.20" y2="342.40" stroke="#2a2a2a" stroke-width="1.1"/>
<line x1="411.10" y1="338.80" x2="411.10" y2="342.40" stroke="#2a2a2a" stroke-width="1.1"/>
<line x1="414.28" y1="338.80" x2="414.28" y2="342.40" stroke="#2a2a2a" stroke-width="1.1"/>
<line x1="416.97" y1="338.80" x2="416.97" y2="342.40" stroke="#2a2a2a" stroke-width="1.1"/>
<line x1="419.30" y1="338.80" x2="419.30" y2="342.40" stroke="#2a2a2a" stroke-width="1.1"/>
<line x1="421.36" y1="338.80" x2="421.36" y2="342.40" stroke="#2a2a2a" stroke-width="1.1"/>
<line x1="423.20" y1="338.80" x2="423.20" y2="345.10" stroke="#2a2a2a" stroke-width="1.1"/>
<line x1="435.30" y1="338.80" x2="435.30" y2="342.40" stroke="#2a2a2a" stroke-width="1.1"/>
<line x1="442.38" y1="338.80" x2="442.38" y2="342.40" stroke="#2a2a2a" stroke-width="1.1"/>
<line x1="447.40" y1="338.80" x2="447.40" y2="342.40" stroke="#2a2a2a" stroke-width="1.1"/>
<line x1="451.30" y1="338.80" x2="451.30" y2="342.40" stroke="#2a2a2a" stroke-width="1.1"/>
<line x1="454.48" y1="338.80" x2="454.48" y2="342.40" stroke="#2a2a2a" stroke-width="1.1"/>
<line x1="457.17" y1="338.80" x2="457.17" y2="342.40" stroke="#2a2a2a" stroke-width="1.1"/>
<line x1="459.50" y1="338.80" x2="459.50" y2="342.40" stroke="#2a2a2a" stroke-width="1.1"/>
<line x1="461.56" y1="338.80" x2="461.56" y2="342.40" stroke="#2a2a2a" stroke-width="1.1"/>
<line x1="463.40" y1="338.80" x2="463.40" y2="345.10" stroke="#2a2a2a" stroke-width="1.1"/>
<line x1="475.50" y1="338.80" x2="475.50" y2="342.40" stroke="#2a2a2a" stroke-width="1.1"/>
<line x1="482.58" y1="338.80" x2="482.58" y2="342.40" stroke="#2a2a2a" stroke-width="1.1"/>
<line x1="487.60" y1="338.80" x2="487.60" y2="342.40" stroke="#2a2a2a" stroke-width="1.1"/>
<line x1="491.50" y1="338.80" x2="491.50" y2="342.40" stroke="#2a2a2a" stroke-width="1.1"/>
<line x1="494.68" y1="338.80" x2="494.68" y2="342.40" stroke="#2a2a2a" stroke-width="1.1"/>
<line x1="497.37" y1="338.80" x2="497.37" y2="342.40" stroke="#2a2a2a" stroke-width="1.1"/>
<line x1="499.70" y1="338.80" x2="499.70" y2="342.40" stroke="#2a2a2a" stroke-width="1.1"/>
<line x1="501.76" y1="338.80" x2="501.76" y2="342.40" stroke="#2a2a2a" stroke-width="1.1"/>
<line x1="503.60" y1="338.80" x2="503.60" y2="345.10" stroke="#2a2a2a" stroke-width="1.1"/>
<line x1="515.70" y1="338.80" x2="515.70" y2="342.40" stroke="#2a2a2a" stroke-width="1.1"/>
<line x1="522.78" y1="338.80" x2="522.78" y2="342.40" stroke="#2a2a2a" stroke-width="1.1"/>
<line x1="527.80" y1="338.80" x2="527.80" y2="342.40" stroke="#2a2a2a" stroke-width="1.1"/>
<line x1="531.70" y1="338.80" x2="531.70" y2="342.40" stroke="#2a2a2a" stroke-width="1.1"/>
<line x1="534.88" y1="338.80" x2="534.88" y2="342.40" stroke="#2a2a2a" stroke-width="1.1"/>
<line x1="537.57" y1="338.80" x2="537.57" y2="342.40" stroke="#2a2a2a" stroke-width="1.1"/>
<line x1="539.90" y1="338.80" x2="539.90" y2="342.40" stroke="#2a2a2a" stroke-width="1.1"/>
<line x1="541.96" y1="338.80" x2="541.96" y2="342.40" stroke="#2a2a2a" stroke-width="1.1"/>
<line x1="543.80" y1="338.80" x2="543.80" y2="345.10" stroke="#2a2a2a" stroke-width="1.1"/>
<text x="375.40" y="358.90" font-size="11.4" fill="#2a2a2a" transform="translate(383.00,0) scale(0.9,1) translate(-383.00,0)">10<tspan font-size="10.4" dy="-4.3">0</tspan></text>
<text x="415.60" y="358.90" font-size="11.4" fill="#2a2a2a" transform="translate(423.20,0) scale(0.9,1) translate(-423.20,0)">10<tspan font-size="10.4" dy="-4.3">1</tspan></text>
<text x="455.80" y="358.90" font-size="11.4" fill="#2a2a2a" transform="translate(463.40,0) scale(0.9,1) translate(-463.40,0)">10<tspan font-size="10.4" dy="-4.3">2</tspan></text>
<text x="496.00" y="358.90" font-size="11.4" fill="#2a2a2a" transform="translate(503.60,0) scale(0.9,1) translate(-503.60,0)">10<tspan font-size="10.4" dy="-4.3">3</tspan></text>
<text x="536.20" y="358.90" font-size="11.4" fill="#2a2a2a" transform="translate(543.80,0) scale(0.9,1) translate(-543.80,0)">10<tspan font-size="10.4" dy="-4.3">4</tspan></text>
<text x="379.70" y="368.30" font-size="10.2" font-weight="bold" text-anchor="start" fill="#111" >active caspase-3 PE Fli</text>
<text x="384.20" y="209.40" font-size="10.25" font-weight="bold" text-anchor="start" fill="#111" >patient</text>
<text x="358.40" y="242.40" font-size="14.5" font-weight="normal" text-anchor="start" fill="#1a1a1a" >n</text>
<text x="484.20" y="252.80" font-size="12" font-weight="bold" text-anchor="start" fill="#111" >6.08 %</text>
<line x1="383.00" y1="303.70" x2="474.30" y2="303.70" stroke="#111" stroke-width="1.3"/>
<line x1="474.30" y1="293.20" x2="474.30" y2="314.20" stroke="#111" stroke-width="1.3"/>
<text x="431.90" y="297.40" font-size="11.6" font-weight="normal" text-anchor="start" fill="#1a1a1a" >M1</text>
<line x1="475.50" y1="274.20" x2="543.80" y2="274.20" stroke="#111" stroke-width="1.3"/>
<line x1="475.50" y1="263.70" x2="475.50" y2="284.70" stroke="#111" stroke-width="1.3"/>
<text x="522.90" y="267.60" font-size="11.6" font-weight="normal" text-anchor="start" fill="#1a1a1a" >M2</text>
</svg>
</body></html>
